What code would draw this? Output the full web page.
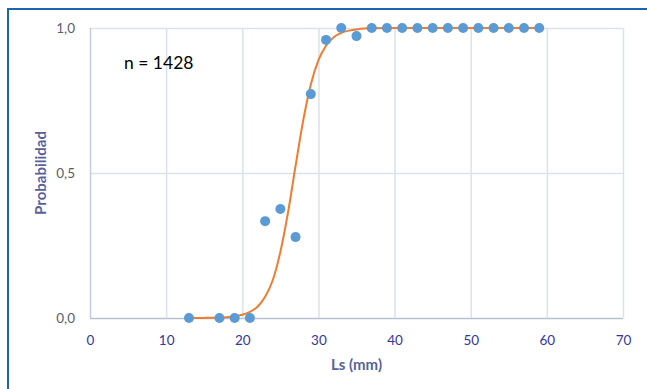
<!DOCTYPE html>
<html>
<head>
<meta charset="utf-8">
<script src="https://cdn.jsdelivr.net/npm/d3@7"></script>
<style>
  body { margin: 0; background: #fff; }
  svg text { font-family: Lato, "Open Sans", sans-serif; }
  .tick text { font-size: 13.5px; }
  .axis-label { font-size: 15px; font-weight: bold; fill: #595f9a; }
</style>
</head>
<body>
<svg width="647" height="389"></svg>
<script>
// observed points (Ls in mm, proportion)
const lsValues = [13, 17, 19, 21, 23, 25, 27, 29, 31, 33, 35, 37, 39, 41, 43, 45, 47, 49, 51, 53, 55, 57, 59];
const probValues = [0, 0, 0, 0, 0.334, 0.376, 0.279, 0.772, 0.959, 1, 0.972, 1, 1, 1, 1, 1, 1, 1, 1, 1, 1, 1, 1];

// fitted curve
const fitLs = [13, 15, 17, 18, 19, 20, 21, 22, 23, 24, 25, 26, 27, 28, 29, 30, 31, 32, 33, 34, 35, 36, 37, 39, 41, 45, 50, 55, 59];
const fitProb = [0.0001, 0.0004, 0.0015, 0.003, 0.0056, 0.011, 0.021, 0.039, 0.073, 0.13, 0.228, 0.363, 0.525, 0.681, 0.805, 0.889, 0.939, 0.968, 0.983, 0.991, 0.995, 0.998, 0.999, 1, 1, 1, 1, 1, 1];

const xTicks = [0, 10, 20, 30, 40, 50, 60, 70];
const yTicks = [0, 0.5, 1];

const { select, scaleLinear, axisLeft, axisBottom, line, curveMonotoneX } = d3;

const svg = select('svg');
const width = +svg.attr('width');
const height = +svg.attr('height');

const margin = { top: 28, right: 24, bottom: 71, left: 90 };
const innerWidth = width - margin.left - margin.right;
const innerHeight = height - margin.top - margin.bottom;

// frame around the chart
svg.append('path')
  .attr('d', `M8,${height} L8,9 L${width},9`)
  .attr('fill', 'none')
  .attr('stroke', '#1f63ad')
  .attr('stroke-width', 2);

const xScale = scaleLinear().domain([0, 70]).range([0, innerWidth]);
const yScale = scaleLinear().domain([0, 1]).range([innerHeight, 0]);

const g = svg.append('g')
  .attr('transform', `translate(${margin.left},${margin.top})`);

const xAxis = axisBottom(xScale)
  .tickValues(xTicks)
  .tickSize(-innerHeight)
  .tickPadding(17)
  .tickFormat(d3.format('d'));

const yAxis = axisLeft(yScale)
  .tickValues(yTicks)
  .tickSize(-innerWidth)
  .tickPadding(15)
  .tickFormat(d => d3.format('.1f')(d).replace('.', ','));

const yAxisG = g.append('g').call(yAxis)
  .attr('font-family', null).attr('font-size', null);
yAxisG.select('.domain').remove();
yAxisG.selectAll('.tick line').attr('stroke', '#dce2ea').attr('stroke-width', 1.5);
yAxisG.selectAll('.tick text').attr('fill', '#58606e');
yAxisG.selectAll('.tick').filter(d => d === 0).select('line').attr('stroke', '#b7c1d2');

const xAxisG = g.append('g').call(xAxis)
  .attr('transform', `translate(0,${innerHeight})`)
  .attr('font-family', null).attr('font-size', null);
xAxisG.select('.domain').remove();
xAxisG.selectAll('.tick line').attr('stroke', '#dce2ea').attr('stroke-width', 1.5);
xAxisG.selectAll('.tick text').attr('fill', '#35379a');
xAxisG.selectAll('.tick').filter(d => d === 0).select('line').attr('stroke', '#c3ccda');

xAxisG.append('text')
  .attr('class', 'axis-label')
  .attr('y', 52)
  .attr('x', innerWidth / 2)
  .attr('text-anchor', 'middle')
  .text('Ls (mm)');

yAxisG.append('text')
  .attr('class', 'axis-label')
  .attr('transform', 'rotate(-90)')
  .attr('x', -innerHeight / 2)
  .attr('y', -44)
  .attr('text-anchor', 'middle')
  .text('Probabilidad');

// fitted curve
const fitData = fitLs.map((x, i) => ({ x, p: fitProb[i] }));
const lineGenerator = line()
  .x(d => xScale(d.x))
  .y(d => yScale(d.p))
  .curve(curveMonotoneX);

g.append('path')
  .attr('d', lineGenerator(fitData))
  .attr('fill', 'none')
  .attr('stroke', '#ed7d31')
  .attr('stroke-width', 2);

// observed points
const points = lsValues.map((x, i) => ({ x, p: probValues[i] }));
g.selectAll('circle').data(points)
  .enter().append('circle')
  .attr('cx', d => xScale(d.x))
  .attr('cy', d => yScale(d.p))
  .attr('r', 5)
  .attr('fill', '#5b9bd5');

g.append('text')
  .attr('x', 34)
  .attr('y', 41)
  .attr('font-size', 17.5)
  .attr('fill', '#000')
  .text('n = 1428');
</script>
</body>
</html>
